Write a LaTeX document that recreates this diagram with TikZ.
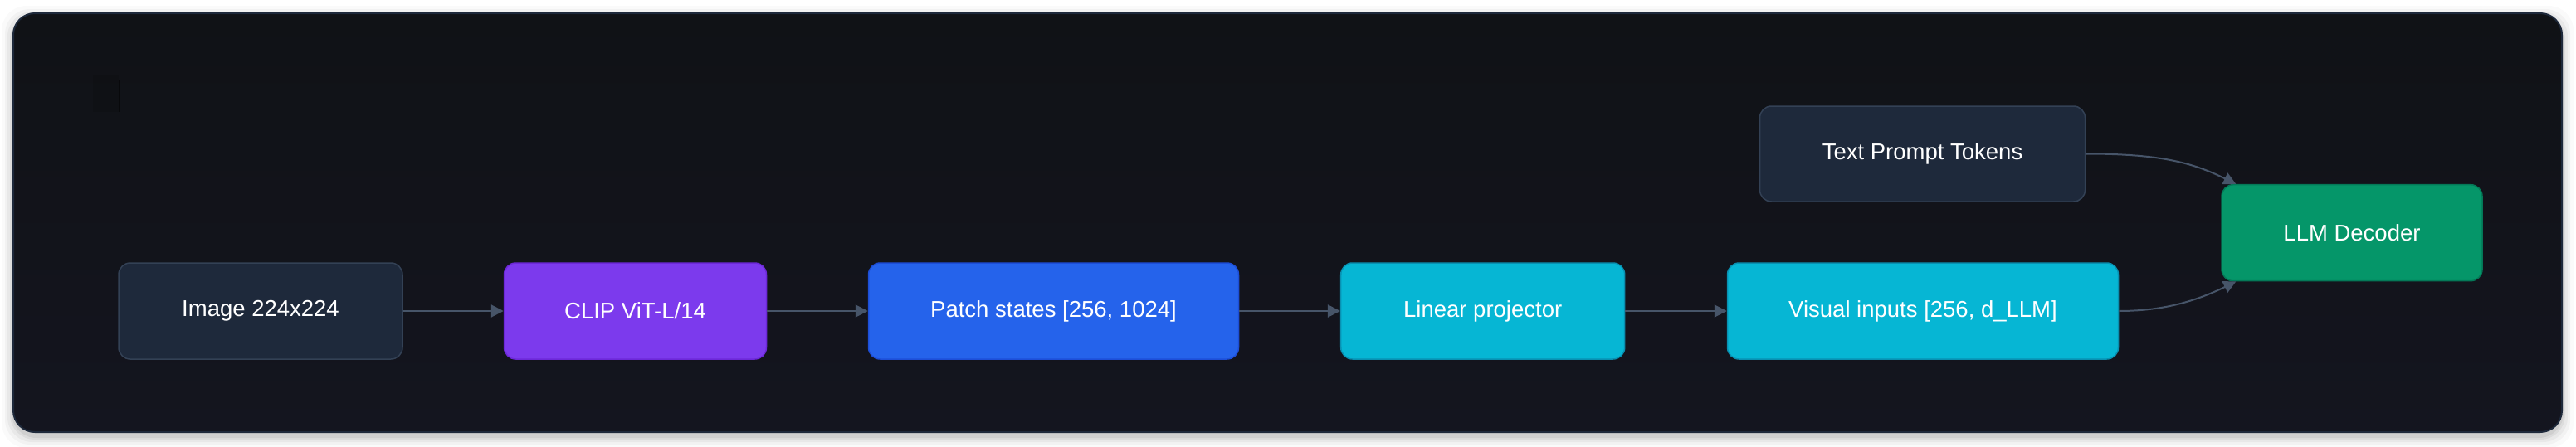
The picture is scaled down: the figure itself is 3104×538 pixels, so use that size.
\documentclass[tikz,border=0pt]{standalone}
\usepackage{fontspec}
\setmainfont{Liberation Sans}
\usetikzlibrary{arrows.meta}
\definecolor{cardbgA}{HTML}{101216}
\definecolor{cardbgB}{HTML}{14151F}
\definecolor{cardline}{HTML}{1E293B}
\definecolor{slatefill}{HTML}{1E293B}
\definecolor{slateline}{HTML}{334155}
\definecolor{violetfill}{HTML}{7C3AED}
\definecolor{violetline}{HTML}{6D28D9}
\definecolor{bluefill}{HTML}{2563EB}
\definecolor{blueline}{HTML}{1D4ED8}
\definecolor{cyanfill}{HTML}{06B6D4}
\definecolor{cyanline}{HTML}{0891B2}
\definecolor{greenfill}{HTML}{059669}
\definecolor{greenline}{HTML}{047857}
\definecolor{arrowcol}{HTML}{475569}
\tikzset{
  box/.style={rounded corners=14pt, line width=1.5pt, minimum height=116pt,
    text=white, font=\fontsize{27.5}{32}\selectfont, inner sep=0pt},
  slatebox/.style={box, fill=slatefill, draw=slateline},
  violetbox/.style={box, fill=violetfill, draw=violetline},
  bluebox/.style={box, fill=bluefill, draw=blueline},
  cyanbox/.style={box, fill=cyanfill, draw=cyanline},
  greenbox/.style={box, fill=greenfill, draw=greenline},
  flow/.style={draw=arrowcol, line width=2pt, -{Triangle[length=15pt,width=15pt]}},
}
\begin{document}
\begin{tikzpicture}[x=1pt,y=-1pt]
\useasboundingbox (0,0) rectangle (3104,538);
\fill[white] (0,0) rectangle (3104,538);
% soft shadow
\foreach \d/\o in {14/0.02,10/0.03,7/0.04,4/0.05,2/0.06}{
  \fill[black,opacity=\o,rounded corners=30pt] (16-\d,16-\d+5) rectangle (3087+\d,521+\d+5);
}
% card
\shade[top color=cardbgA, bottom color=cardbgB, rounded corners=26pt] (16,16) rectangle (3087,521);
\draw[cardline, line width=2pt, rounded corners=26pt] (16,16) rectangle (3087,521);
% faint marker
\fill[black,opacity=0.1] (112,91) rectangle (143,135);
\draw[black,opacity=0.5,line width=1pt] (143,96) -- (143,135);

% nodes
\node[slatebox, minimum width=342pt] (img) at (314,375) {Image 224x224};
\node[violetbox, minimum width=316pt] (clip) at (765.5,375) {CLIP ViT-L/14};
\node[bluebox, minimum width=446pt] (patch) at (1269.5,375) {Patch states [256, 1024]};
\node[cyanbox, minimum width=342pt] (lin) at (1786.7,375) {Linear projector};
\node[cyanbox, minimum width=471pt] (vis) at (2317,375) {Visual inputs [256, d\_LLM]};
\node[slatebox, minimum width=392pt, minimum height=115pt] (txt) at (2316.5,185.5) {Text Prompt Tokens};
\node[greenbox, minimum width=314pt] (llm) at (2834,280.7) {LLM Decoder};

\coordinate (llmtop) at ([xshift=18pt]llm.north west);
\coordinate (llmbot) at ([xshift=18pt]llm.south west);

% connectors
\draw[flow] (img) -- (clip);
\draw[flow] (clip) -- (patch);
\draw[flow] (patch) -- (lin);
\draw[flow] (lin) -- (vis);
\draw[flow] (txt.east) .. controls (2600,185.5) and (2640,195) .. (llmtop);
\draw[flow] (vis.east) .. controls (2600,375) and (2640,366) .. (llmbot);
\end{tikzpicture}
\end{document}
